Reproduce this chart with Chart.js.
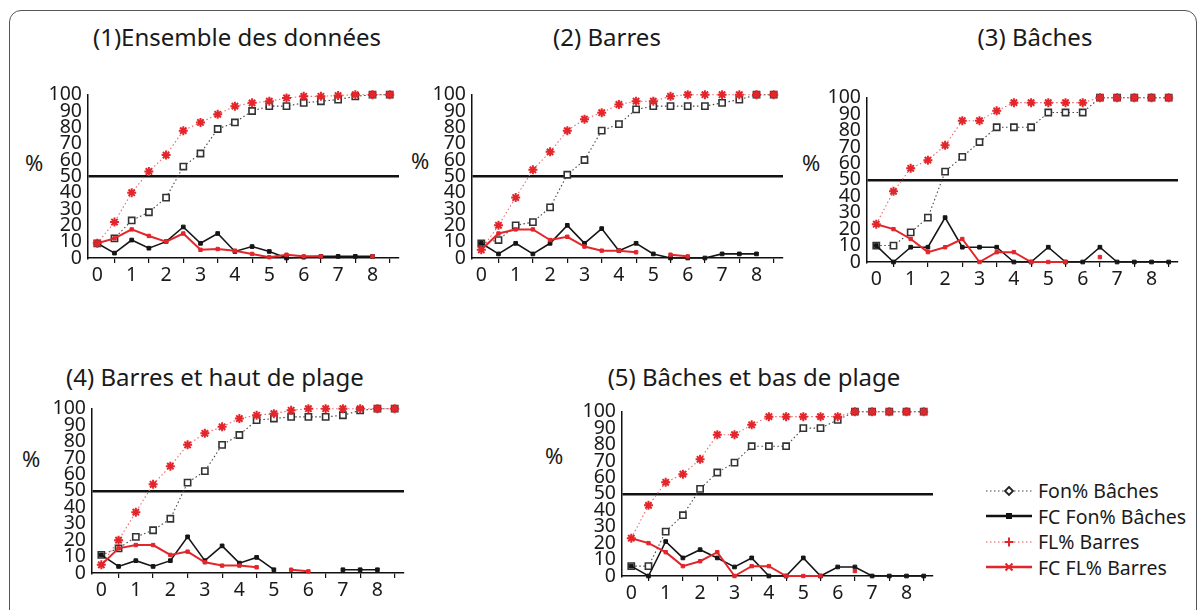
<!DOCTYPE html>
<html>
<head>
<meta charset="utf-8">
<script src="https://cdn.jsdelivr.net/npm/chart.js@4.4.1/dist/chart.umd.min.js"></script>
<style>
    body { margin: 0; background: #fff; font-family: "Noto Sans", sans-serif; color: #1a1a1a; }
    #frame { position: absolute; left: 9px; top: 10px; width: 1186px; height: 620px; border: 1.5px solid #555; border-radius: 12px; }
    .title { position: absolute; width: 420px; text-align: center; font-size: 24px; line-height: 28px; }
    .pct { position: absolute; font-size: 22px; line-height: 22px; }
    canvas { position: absolute; }
    #legend { position: absolute; left: 986px; top: 478px; font-size: 19.5px; line-height: 25.5px; }
    #legend div { display: flex; align-items: center; white-space: nowrap; }
    #legend svg { margin-right: 6px; }
</style>
</head>
<body>
<div id="frame"></div>

<div class="title" style="left:27px;top:23px">(1)Ensemble des données</div>
<div class="title" style="left:397px;top:23px">(2) Barres</div>
<div class="title" style="left:825px;top:23px">(3) Bâches</div>
<div class="title" style="left:5px;top:363px">(4) Barres et haut de plage</div>
<div class="title" style="left:544px;top:363px">(5) Bâches et bas de plage</div>

<div class="pct" style="left:25px;top:151px">%</div>
<div class="pct" style="left:411px;top:149px">%</div>
<div class="pct" style="left:802px;top:151px">%</div>
<div class="pct" style="left:22px;top:447px">%</div>
<div class="pct" style="left:545px;top:444px">%</div>

<canvas id="c1"></canvas>
<canvas id="c2"></canvas>
<canvas id="c3"></canvas>
<canvas id="c4"></canvas>
<canvas id="c5"></canvas>

<div id="legend">
    <div><svg width="46" height="12"><line x1="0" y1="6" x2="46" y2="6" stroke="#444" stroke-width="1.2" stroke-dasharray="1.5,2.5"/><path d="M23 2 L27 6 L23 10 L19 6 Z" fill="#fff" stroke="#222" stroke-width="1.8"/></svg>Fon% Bâches</div>
    <div><svg width="46" height="12"><line x1="0" y1="6" x2="46" y2="6" stroke="#111" stroke-width="2.5"/><rect x="20" y="3" width="6" height="6" fill="#111"/></svg>FC Fon% Bâches</div>
    <div><svg width="46" height="12"><line x1="0" y1="6" x2="46" y2="6" stroke="#e8585c" stroke-width="1.2" stroke-dasharray="1.5,2.5"/><path d="M23 1.5 V10.5 M18.5 6 H27.5" stroke="#e3262b" stroke-width="2"/></svg>FL% Barres</div>
    <div><svg width="46" height="12"><line x1="0" y1="6" x2="46" y2="6" stroke="#e3262b" stroke-width="2.5"/><path d="M19.5 2.5 L26.5 9.5 M26.5 2.5 L19.5 9.5" stroke="#e3262b" stroke-width="2"/></svg>FC FL% Barres</div>
</div>

<script>
// abscisses communes
var xs = [0, 0.5, 1, 1.5, 2, 2.5, 3, 3.5, 4, 4.5, 5, 5.5, 6, 6.5, 7, 7.5, 8, 8.5];
var xLabels = [0, 1, 2, 3, 4, 5, 6, 7, 8];
var yTicks = [0, 10, 20, 30, 40, 50, 60, 70, 80, 90, 100];
var seuil = 50;

// (1) Ensemble des données
var fonCum1 = [9, 12, 23, 28, 37, 56, 64, 79, 83, 90, 93, 93, 95, 96, 97, 99, 100, 100];
var fcFon1  = [9, 3, 11, 6, 10, 19, 9, 15, 4, 7, 4, 0, 0.5, 1, 1, 1, 1, null];
var flCum1  = [9, 22, 40, 53, 63, 78, 83, 88, 93, 95, 96, 98, 99, 99, 99.5, 100, 100, 100];
var fcFl1   = [9, 12, 17.5, 13.5, 10, 15, 5, 5.5, 4.5, 2.5, 0.5, 2, 1, 1, null, null, 1, null];

// (2) Barres
var fonCum2 = [9, 11, 20, 22, 31, 51, 60, 78, 82, 91, 93, 93, 93, 93, 95, 97, 100, 100];
var fcFon2  = [9, 2.5, 9, 2.5, 9, 20, 9, 18, 4.5, 9, 2.5, 0, 0, 0, 2.5, 2.5, 2.5, null];
var flCum2  = [5, 20, 37, 54, 65, 78, 85, 89, 94, 96, 96, 99, 100, 100, 100, 100, 100, 100];
var fcFl2   = [5, 15, 17.5, 17.5, 11, 13, 7, 4.5, 4.5, 3.5, null, 2, 1, null, null, null, null, null];

// (3) Bâches
var fonCum3 = [10, 10, 18, 27, 55, 64, 73, 82, 82, 82, 91, 91, 91, 100, 100, 100, 100, 100];
var fcFon3  = [10, 0, 9, 9, 27, 9, 9, 9, 0, 0, 9, 0, 0, 9, 0, 0, 0, 0];
var flCum3  = [23, 43, 57, 62, 71, 86, 86, 92, 97, 97, 97, 97, 97, 100, 100, 100, 100, 100];
var fcFl3   = [23, 20, 14, 6, 9, 14, 0, 6, 6, 0, 0, 0, null, 3, null, null, null, null];

// (4) Barres et haut de plage
var fonCum4 = [11, 15, 22, 26, 33, 55, 62, 78, 84, 93, 94, 95, 95, 95, 96, 99, 100, 100];
var fcFon4  = [11, 4, 7.5, 4, 7.5, 22, 7.5, 16.5, 6, 9.5, 2, null, null, null, 2, 2, 2, null];
var flCum4  = [5, 20, 37, 54, 65, 78, 85, 89, 94, 96, 97, 99, 100, 100, 100, 100, 100, 100];
var fcFl4   = [5, 15, 17, 17, 11, 13, 6.5, 4.5, 4.5, 3.5, null, 2, 1, null, null, null, null, null];

// (5) Bâches et bas de plage
var fonCum5 = [6, 6, 27, 37, 53, 63, 69, 79, 79, 79, 90, 90, 95, 100, 100, 100, 100, 100];
var fcFon5  = [6, 0, 21, 11, 16, 11, 5.5, 11, 0, 0, 11, 0, 5.5, 5.5, 0, 0, 0, 0];
var flCum5  = [23, 43, 57, 62, 71, 86, 86, 92, 97, 97, 97, 97, 97, 100, 100, 100, 100, 100];
var fcFl5   = [23, 20, 14.5, 6, 9, 14.5, 0, 6, 6, 0, 0, 0, null, 3, null, null, null, null];

var ROUGE = '#e3262b';
var Y_W = 58, X_H = 30, PAD_T = 14, PAD_R = 10;

function points(values) {
    return values.map(function (v, i) { return { x: xs[i], y: v }; });
}

function makePanel(id, box, fonCum, fcFon, flCum, fcFl) {
    var canvas = document.getElementById(id);
    canvas.width = box.r - box.l + Y_W + PAD_R;
    canvas.height = box.b - box.t + PAD_T + X_H;
    canvas.style.left = (box.l - Y_W) + 'px';
    canvas.style.top = (box.t - PAD_T) + 'px';

    return new Chart(canvas.getContext('2d'), {
        type: 'line',
        data: {
            datasets: [{
                label: 'FC FL% Barres',
                data: points(fcFl),
                borderColor: ROUGE, borderWidth: 2,
                pointStyle: 'rect', pointRadius: 2.4, pointBackgroundColor: ROUGE, pointBorderColor: ROUGE, pointBorderWidth: 1,
                order: 1
            }, {
                label: 'FL% Barres',
                data: points(flCum),
                borderColor: '#ea6a6c', borderWidth: 1.1, borderDash: [1.5, 2.5],
                pointStyle: 'star', pointRadius: 4.5, pointBorderColor: ROUGE, pointBorderWidth: 2,
                order: 2
            }, {
                label: 'FC Fon% Bâches',
                data: points(fcFon),
                borderColor: '#151515', borderWidth: 1.6,
                pointStyle: 'rect', pointRadius: 2.6, pointBackgroundColor: '#151515', pointBorderColor: '#151515', pointBorderWidth: 1,
                order: 3
            }, {
                label: 'Fon% Bâches',
                data: points(fonCum),
                borderColor: '#444', borderWidth: 1.1, borderDash: [1.5, 2.5],
                pointStyle: 'rect', pointRadius: 4.4, pointBackgroundColor: '#fff', pointBorderColor: '#333', pointBorderWidth: 1.6,
                order: 4
            }]
        },
        options: {
            responsive: false,
            animation: false,
            clip: 8,
            layout: { padding: { top: PAD_T, right: PAD_R, left: 0, bottom: 0 } },
            plugins: { legend: { display: false }, tooltip: { enabled: false } },
            scales: {
                x: {
                    type: 'linear', min: -0.27, max: 8.77,
                    afterBuildTicks: function (s) { s.ticks = xs.map(function (v) { return { value: v }; }); },
                    afterFit: function (s) { s.height = X_H; },
                    ticks: {
                        autoSkip: false, maxRotation: 0, padding: 1,
                        color: '#1a1a1a', font: { family: 'Noto Sans', size: 19.5 },
                        callback: function (v) { return xLabels.indexOf(v) >= 0 ? String(v) : ''; }
                    },
                    grid: {
                        drawOnChartArea: false, drawTicks: true, tickLength: 5, lineWidth: 1.2,
                        color: function (ctx) { return ctx.tick && xLabels.indexOf(ctx.tick.value) < 0 ? '#111' : 'rgba(0,0,0,0)'; }
                    },
                    border: { display: true, color: '#111', width: 1.5 }
                },
                y: {
                    min: 0, max: 100,
                    afterBuildTicks: function (s) { s.ticks = yTicks.map(function (v) { return { value: v }; }); },
                    afterFit: function (s) { s.width = Y_W; },
                    ticks: {
                        autoSkip: false, padding: 6,
                        color: '#1a1a1a', font: { family: 'Noto Sans', size: 19.5 }
                    },
                    grid: {
                        drawTicks: false, lineWidth: 2.5,
                        color: function (ctx) { return ctx.tick && ctx.tick.value === seuil ? '#111' : 'rgba(0,0,0,0)'; }
                    },
                    border: { display: true, color: '#111', width: 1.5 }
                }
            }
        }
    });
}

makePanel('c1', { l: 88, t: 91, r: 399, b: 258 }, fonCum1, fcFon1, flCum1, fcFl1);
makePanel('c2', { l: 472, t: 91, r: 783, b: 258 }, fonCum2, fcFon2, flCum2, fcFl2);
makePanel('c3', { l: 867, t: 94, r: 1178, b: 262 }, fonCum3, fcFon3, flCum3, fcFl3);
makePanel('c4', { l: 92, t: 405, r: 404, b: 573 }, fonCum4, fcFon4, flCum4, fcFl4);
makePanel('c5', { l: 622, t: 408, r: 933, b: 576 }, fonCum5, fcFon5, flCum5, fcFl5);
</script>
</body>
</html>
